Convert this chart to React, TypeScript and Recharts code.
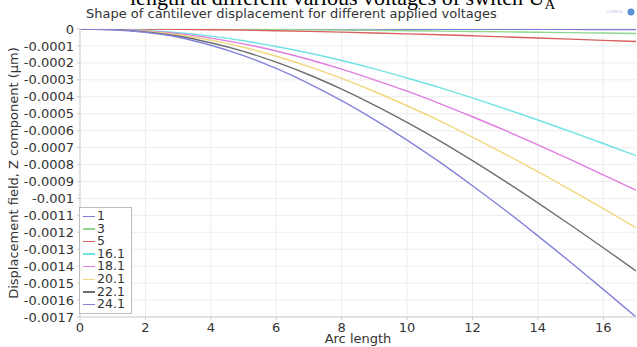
import React from "react";
import { LineChart, Line, XAxis, YAxis, CartesianGrid, Legend, Label } from "recharts";

const arcLength = [0, 1, 2, 3, 4, 5, 6, 7, 8, 9, 10, 11, 12, 13, 14, 15, 16, 17];
const seriesNames = ["1", "3", "5", "16.1", "18.1", "20.1", "22.1", "24.1"];
const seriesColors = ["#7b7bd8", "#8fd68f", "#d9605f", "#6fe2e2", "#e07ce0", "#f1d77c", "#6e6e6e", "#8383da"];

const v1 = [0, 0, 0, -0.0000001, -0.0000002, -0.0000003, -0.0000004, -0.0000006, -0.0000007, -0.0000009, -0.0000011, -0.0000013, -0.0000016, -0.0000018, -0.0000021, -0.0000024, -0.0000027, -0.000003];
const v3 = [0, -0.0000001, -0.0000003, -0.0000008, -0.0000015, -0.0000024, -0.0000036, -0.000005, -0.0000066, -0.0000083, -0.0000102, -0.0000123, -0.0000144, -0.0000167, -0.000019, -0.0000215, -0.000024, -0.0000265];
const v5 = [0, -0.0000002, -0.0000009, -0.0000021, -0.0000042, -0.0000068, -0.0000101, -0.000014, -0.0000184, -0.0000233, -0.0000285, -0.0000342, -0.0000402, -0.0000465, -0.0000531, -0.0000599, -0.0000669, -0.000074];
const v16 = [0, -0.0000018, -0.0000088, -0.000022, -0.000042, -0.000069, -0.000103, -0.000142, -0.000186, -0.000235, -0.000289, -0.000346, -0.000407, -0.000471, -0.000537, -0.000606, -0.000676, -0.000748];
const v18 = [0, -0.0000022, -0.000011, -0.000027, -0.000054, -0.000088, -0.00013, -0.00018, -0.000237, -0.0003, -0.000367, -0.00044, -0.000518, -0.000599, -0.000684, -0.000771, -0.000861, -0.000952];
const v20 = [0, -0.0000028, -0.000014, -0.000034, -0.000066, -0.000108, -0.000161, -0.000222, -0.000292, -0.000369, -0.000453, -0.000542, -0.000638, -0.000738, -0.000842, -0.00095, -0.00106, -0.001173];
const v22 = [0, -0.0000034, -0.000017, -0.000041, -0.000081, -0.000132, -0.000196, -0.00027, -0.000355, -0.000449, -0.000551, -0.00066, -0.000777, -0.000899, -0.001026, -0.001157, -0.001291, -0.001428];
const v24 = [0, -0.000004, -0.00002, -0.000049, -0.000096, -0.000157, -0.000233, -0.000322, -0.000423, -0.000535, -0.000656, -0.000786, -0.000925, -0.00107, -0.001221, -0.001377, -0.001537, -0.0017];

const xTicks = [0, 2, 4, 6, 8, 10, 12, 14, 16];
const yTicks = [0, -0.0001, -0.0002, -0.0003, -0.0004, -0.0005, -0.0006, -0.0007, -0.0008, -0.0009, -0.001, -0.0011, -0.0012, -0.0013, -0.0014, -0.0015, -0.0016, -0.0017];

const allSeries = [v1, v3, v5, v16, v18, v20, v22, v24];
const data = arcLength.map((x, i) => {
  const row: any = { x };
  seriesNames.forEach((n, k) => {
    row["s" + k] = allSeries[k][i];
  });
  return row;
});

const FONT = "DejaVu Sans";

const LegendBox = () => (
  <div
    style={{
      border: "1px solid #bdbdbd",
      background: "#fff",
      padding: "2px 3px 2px 3px",
      fontFamily: FONT,
      fontSize: 12.5,
      color: "#333",
      lineHeight: "12.6px",
      width: 45,
    }}
  >
    {seriesNames.map((n, k) => (
      <div key={n} style={{ display: "flex", alignItems: "center", height: 12.6 }}>
        <span style={{ display: "inline-block", width: 12, height: 1.5, background: seriesColors[k], marginRight: 2, flexShrink: 0 }} />
        <span>{n}</span>
      </div>
    ))}
  </div>
);

export default function App() {
  return (
    <div style={{ position: "absolute", left: 0, top: 0, width: 637, height: 347, background: "#fff", overflow: "hidden" }}>
      <svg width={637} height={347} style={{ position: "absolute", left: 0, top: 0 }}>
        <text x={130} y={5} fontFamily="Liberation Serif" fontSize={22} fill="#000">
          length at different various voltages of switch U<tspan fontSize={15} dy={4}>A</tspan>
        </text>
        <text x={86} y={18} fontFamily={FONT} fontSize={13} fill="#333">
          Shape of cantilever displacement for different applied voltages
        </text>
        <text x={606} y={13} fontFamily={FONT} fontSize={4} fill="#b8c8e0">COMSOL</text>
        <circle cx={631} cy={12} r={3.5} fill="#5b8fd6" />
      </svg>
      <div style={{ position: "absolute", left: 0, top: 0 }}>
        <LineChart width={637} height={347} data={data} margin={{ top: 29, right: 1, left: 0, bottom: 0 }}>
          <CartesianGrid stroke="#ededed" strokeWidth={1} horizontalValues={yTicks} verticalValues={xTicks} />
          <XAxis
            dataKey="x"
            type="number"
            domain={[0, 17]}
            ticks={xTicks}
            height={30}
            tickSize={3}
            tickMargin={3}
            stroke="#cfcfcf"
            tick={{ fontFamily: FONT, fontSize: 13, fill: "#333" }}
            allowDataOverflow
          >
            <Label value="Arc length" position="insideBottom" offset={0} style={{ fontFamily: FONT, fontSize: 13, fill: "#333" }} dy={-4} />
          </XAxis>
          <YAxis
            type="number"
            domain={[-0.0017, 0]}
            ticks={yTicks}
            width={80}
            tickSize={3}
            tickMargin={3}
            interval={0}
            stroke="#cfcfcf"
            tick={{ fontFamily: FONT, fontSize: 13, fill: "#333" }}
            tickFormatter={(v: number) => String(v)}
            allowDataOverflow
          >
            <Label
              value="Displacement field, Z component (µm)"
              angle={-90}
              position="insideLeft"
              offset={13}
              style={{ fontFamily: FONT, fontSize: 13, fill: "#333", textAnchor: "middle" }}
            />
          </YAxis>
          <Legend
            layout="horizontal"
            verticalAlign="middle"
            align="center"
            content={() => <LegendBox />}
            wrapperStyle={{ left: 79, top: 207, width: 53 }}
          />
          {seriesNames.map((n, k) => (
            <Line
              key={n}
              dataKey={"s" + k}
              name={n}
              type="monotone"
              stroke={seriesColors[k]}
              strokeWidth={1.4}
              dot={false}
              isAnimationActive={false}
            />
          ))}
        </LineChart>
      </div>
    </div>
  );
}
